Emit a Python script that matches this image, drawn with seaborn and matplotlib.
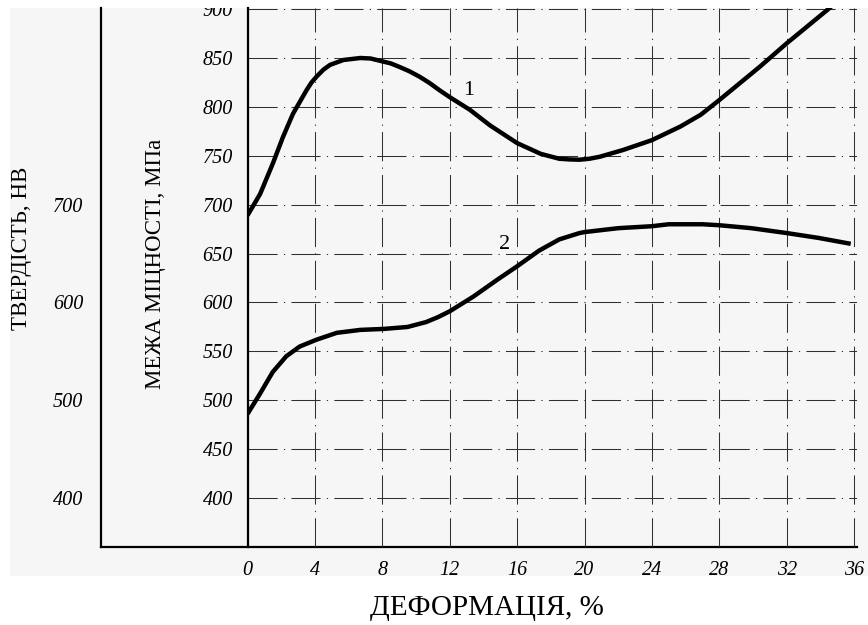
import matplotlib
matplotlib.use("Agg")
import matplotlib.pyplot as plt
import seaborn as sns
import pandas as pd
from matplotlib.patches import Rectangle

# ---- data ----
deformation_1 = [0, 0.75, 1.5, 2.1, 2.7, 3.5, 3.8, 4.1, 4.5, 4.9, 5.3, 5.7, 6.7, 7.3, 7.9,
                 8.5, 9.0, 9.6, 10.2, 10.8, 11.4, 12.0, 13.2, 14.4, 16.0, 17.4, 18.5,
                 19.1, 19.7, 20.3, 20.9, 22.3, 24.0, 25.7, 26.9, 28.0, 29.2, 30.4, 32.0,
                 33.2, 34.4, 35.0]
strength_1 = [689, 711, 742, 769, 793, 817, 825, 831, 838, 843, 845.5, 848, 850, 849.5, 847,
              844.5, 841, 836.5, 831, 824.5, 817, 810, 797, 781, 763, 752, 747,
              746.3, 746, 747, 749, 756, 766, 780, 792, 807, 824, 841, 865,
              882, 899, 908]

deformation_2 = [0, 0.75, 1.5, 2.3, 3.1, 4.1, 5.3, 6.7, 8.1, 9.5, 10.6, 11.3, 12.0, 13.4,
                 14.8, 16.0, 17.3, 18.5, 19.7, 20.0, 22.0, 24.0, 25.0, 27.0, 28.0, 29.9,
                 32.0, 33.9, 35.8]
strength_2 = [486, 507, 529, 545, 555, 562, 569, 572, 573, 575, 580, 585, 591, 606,
              623, 637, 653, 664.5, 671, 672, 676, 678, 680, 680, 679, 676,
              671, 666, 660]

x_ticks = [0, 4, 8, 12, 16, 20, 24, 28, 32, 36]
strength_ticks = [400, 450, 500, 550, 600, 650, 700, 750, 800, 850, 900]
hardness_ticks = [400, 500, 600, 700]
curve_labels = ["1", "2"]

df1 = pd.DataFrame({"x": deformation_1, "v": strength_1})
df2 = pd.DataFrame({"x": deformation_2, "v": strength_2})

# ---- style ----
sns.set_theme(style="white")
plt.rcParams["font.family"] = ["Liberation Serif", "DejaVu Serif"]

W, H = 868, 625
fig = plt.figure(figsize=(W / 100, H / 100), dpi=100)
fig.patch.set_facecolor("white")
bg = Rectangle((10 / W, 1 - 576 / H), (W - 10) / W, (576 - 8) / H,
               transform=fig.transFigure, facecolor="#f6f6f6", edgecolor="none", zorder=-5)
fig.patches.append(bg)

# pixel geometry
X0, PX = 247.5, 16.85
Y0, PY = 547.0, 0.978
xmax, ymin, ymax = 36.2, 350, 901
right_px = X0 + xmax * PX
top_px = Y0 - (ymax - ymin) * PY
bottom = (H - Y0) / H
height = (Y0 - top_px) / H

# outer (hardness) axis
axL = fig.add_axes([100.5 / W, bottom, (right_px - 100.5) / W, height])
axL.set_facecolor("none")
axL.set_xlim(0, 1)
axL.set_ylim(ymin, ymax)
axL.set_xticks([])
axL.set_yticks(hardness_ticks)
for s in ["top", "right"]:
    axL.spines[s].set_visible(False)
for s in ["left", "bottom"]:
    axL.spines[s].set_color("black")
    axL.spines[s].set_linewidth(1.6)
axL.tick_params(axis="y", direction="in", length=6, width=1.5, pad=12.5,
                labelsize=14.5, colors="black")
for t in axL.get_yticklabels():
    t.set_fontstyle("italic")

# main (strength) axis
ax = fig.add_axes([X0 / W, bottom, (right_px - X0) / W, height])
ax.set_facecolor("none")
sns.lineplot(data=df1, x="x", y="v", ax=ax, color="black", lw=3.2,
             estimator=None, sort=False, solid_joinstyle="round", solid_capstyle="butt")
sns.lineplot(data=df2, x="x", y="v", ax=ax, color="black", lw=3.2,
             estimator=None, sort=False, solid_joinstyle="round", solid_capstyle="butt")
ax.set_xlim(0, xmax)
ax.set_ylim(ymin, ymax)
ax.set_xticks(x_ticks)
ax.set_yticks(strength_ticks)
ax.set_xlabel("")
ax.set_ylabel("")
ax.grid(True, color="#303030", lw=0.75, linestyle=(0, (28, 6, 1.2, 6)))
ax.set_axisbelow(True)
for s in ["top", "right", "bottom"]:
    ax.spines[s].set_visible(False)
ax.spines["left"].set_color("black")
ax.spines["left"].set_linewidth(1.6)
ax.tick_params(axis="x", length=0, pad=10, labelsize=14.5, colors="black")
ax.tick_params(axis="y", length=0, pad=10.5, labelsize=14.5, colors="black")
for t in ax.get_xticklabels() + ax.get_yticklabels():
    t.set_fontstyle("italic")
for t in ax.get_yticklabels():
    t.set_clip_path(bg)

ax.text(13.1, 817, curve_labels[0], fontsize=16, ha="center", va="center", color="black")
ax.text(15.28, 659, curve_labels[1], fontsize=16, ha="center", va="center", color="black")

fig.text(22 / W, 1 - 248.5 / H, "ТВЕРДІСТЬ, НВ", rotation=90, ha="center", va="center",
         fontsize=16.5, color="black")
fig.text(155 / W, 1 - 264 / H, "МЕЖА МІЦНОСТІ, МПа", rotation=90, ha="center", va="center",
         fontsize=16.5, color="black")
fig.text(487 / W, 1 - 608 / H, "ДЕФОРМАЦІЯ, %", ha="center", va="center",
         fontsize=21, color="black")

fig.savefig("out.png", dpi=100)
